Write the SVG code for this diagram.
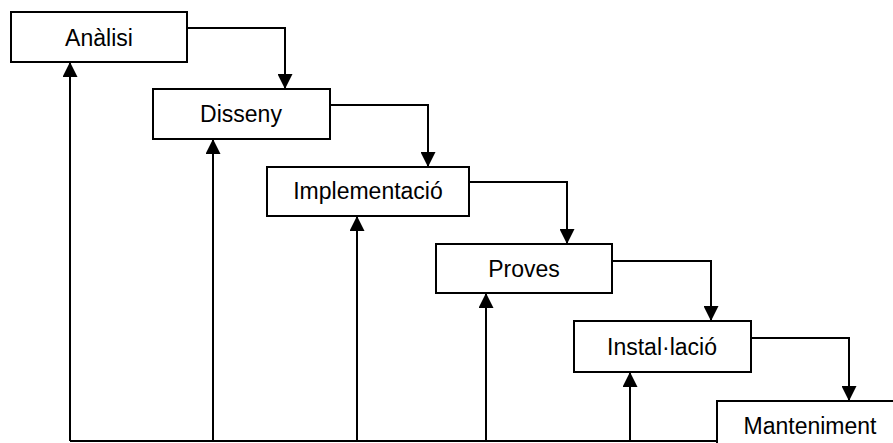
<svg xmlns="http://www.w3.org/2000/svg" width="893" height="443" viewBox="0 0 893 443">
  <style>
    .box { fill: #ffffff; stroke: #000000; stroke-width: 2; }
    .lbl { font-family: "Liberation Sans", Arial, sans-serif; font-size: 23px; fill: #000000; text-anchor: middle; }
    .wire { fill: none; stroke: #000000; stroke-width: 2; }
  </style>
  <defs>
    <marker id="head" markerUnits="userSpaceOnUse" markerWidth="15" markerHeight="15" refX="15" refY="7.5" orient="auto">
      <path d="M0,0 L15,7.5 L0,15 z" fill="#000000"/>
    </marker>
  </defs>
  <rect width="893" height="443" fill="#ffffff"/>

  <g id="connectors">
    <!-- forward flow: each phase feeds the next -->
    <path class="wire" d="M187,28 H285 V89" marker-end="url(#head)"/>
    <path class="wire" d="M330,105 H428 V167" marker-end="url(#head)"/>
    <path class="wire" d="M469,182 H567 V244" marker-end="url(#head)"/>
    <path class="wire" d="M612,261 H711 V321" marker-end="url(#head)"/>
    <path class="wire" d="M751,338 H849 V401" marker-end="url(#head)"/>
    <!-- feedback bus along the bottom -->
    <path class="wire" d="M717,401 V441 H70"/>
    <path class="wire" d="M70,441 V62" marker-end="url(#head)"/>
    <path class="wire" d="M213,441 V139" marker-end="url(#head)"/>
    <path class="wire" d="M357,441 V216" marker-end="url(#head)"/>
    <path class="wire" d="M486,441 V293" marker-end="url(#head)"/>
    <path class="wire" d="M630,441 V372" marker-end="url(#head)"/>
  </g>

  <g id="analisi">
    <rect class="box" x="11" y="12" width="176" height="50"/>
    <text class="lbl" x="99" y="46">Anàlisi</text>
  </g>
  <g id="disseny">
    <rect class="box" x="153" y="89" width="177" height="50"/>
    <text class="lbl" x="241" y="122">Disseny</text>
  </g>
  <g id="implementacio">
    <rect class="box" x="267" y="167" width="202" height="49"/>
    <text class="lbl" x="368" y="199">Implementació</text>
  </g>
  <g id="proves">
    <rect class="box" x="436" y="244" width="176" height="49"/>
    <text class="lbl" x="524" y="277">Proves</text>
  </g>
  <g id="installacio">
    <rect class="box" x="574" y="321" width="177" height="51"/>
    <text class="lbl" x="662" y="355">Instal·lació</text>
  </g>
  <g id="manteniment">
    <rect class="box" x="717" y="401" width="200" height="60"/>
    <text class="lbl" x="810" y="434">Manteniment</text>
  </g>
</svg>
